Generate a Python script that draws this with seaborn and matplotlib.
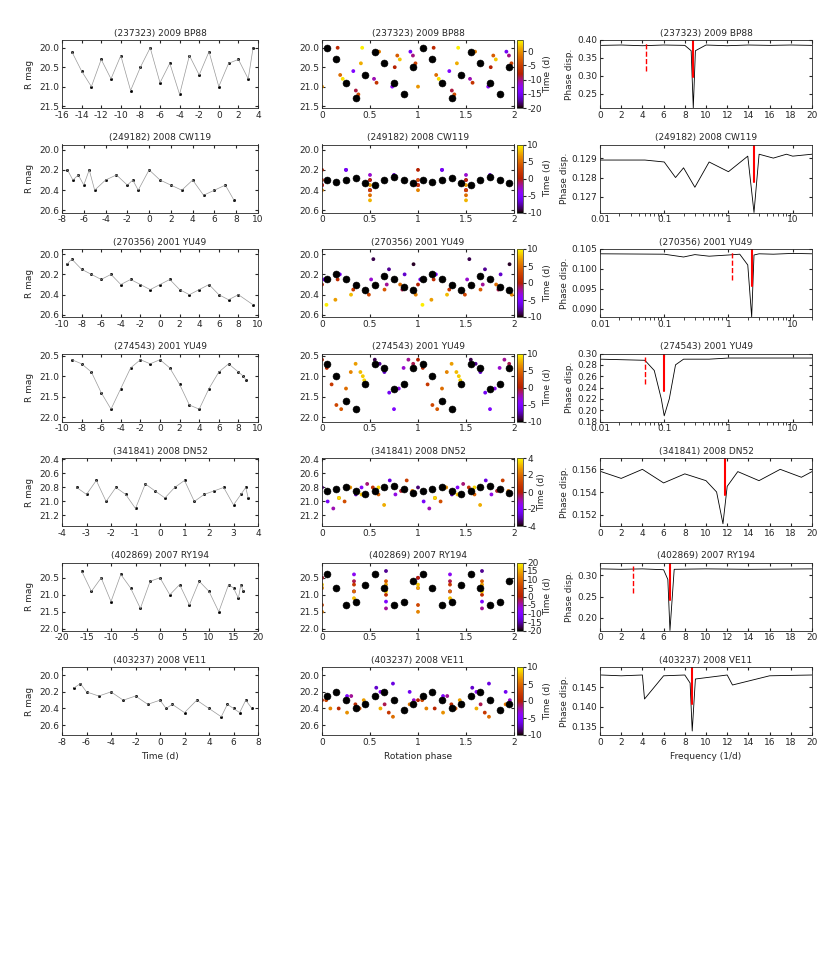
import numpy as np
import matplotlib
matplotlib.use("Agg")
import matplotlib.pyplot as plt
import seaborn as sns

sns.set_style("ticks")
plt.rcParams["font.size"] = 6.5
plt.rcParams["axes.unicode_minus"] = False

# Objects
titles = ["(237323) 2009 BP88", "(249182) 2008 CW119", "(270356) 2001 YU49",
          "(274543) 2001 YU49", "(341841) 2008 DN52", "(402869) 2007 RY194",
          "(403237) 2008 VE11"]

# light-curve samples (time in d, R mag)
times = [
    [-15, -14, -13, -12, -11, -10, -9, -8, -7, -6, -5, -4, -3, -2, -1, 0, 1, 2, 3, 3.5],
    [-7.5, -7, -6.5, -6, -5.5, -5, -4, -3, -2, -1.5, -1, 0, 1, 2, 3, 4, 5, 6, 7, 7.8],
    [-9.5, -9, -8, -7, -6, -5, -4, -3, -2, -1, 0, 1, 2, 3, 4, 5, 6, 7, 8, 9.5],
    [-9, -8, -7, -6, -5, -4, -3, -2, -1, 0, 1, 2, 3, 4, 5, 6, 7, 8, 8.5, 8.8],
    [-3.4, -3, -2.6, -2.2, -1.8, -1.4, -1, -0.6, -0.2, 0.2, 0.6, 1, 1.4, 1.8, 2.2, 2.6, 3, 3.3, 3.5, 3.6],
    [-16, -14, -12, -10, -8, -6, -4, -2, 0, 2, 4, 6, 8, 10, 12, 14, 15, 16, 16.5, 17],
    [-7, -6.5, -6, -5, -4, -3, -2, -1, 0, 0.5, 1, 2, 3, 4, 5, 5.5, 6, 6.5, 7, 7.5],
]
mags = [
    [20.1, 20.6, 21.0, 20.3, 20.8, 20.2, 21.1, 20.5, 20.0, 20.9, 20.4, 21.2, 20.2, 20.7, 20.1, 21.0, 20.4, 20.3, 20.8, 20.0],
    [20.2, 20.3, 20.25, 20.35, 20.2, 20.4, 20.3, 20.25, 20.35, 20.3, 20.4, 20.2, 20.3, 20.35, 20.4, 20.3, 20.45, 20.4, 20.35, 20.5],
    [20.1, 20.05, 20.15, 20.2, 20.25, 20.2, 20.3, 20.25, 20.3, 20.35, 20.3, 20.25, 20.35, 20.4, 20.35, 20.3, 20.4, 20.45, 20.4, 20.5],
    [20.6, 20.7, 20.9, 21.4, 21.8, 21.3, 20.8, 20.6, 20.7, 20.6, 20.8, 21.2, 21.7, 21.8, 21.3, 20.9, 20.7, 20.9, 21.0, 21.1],
    [20.8, 20.9, 20.7, 21.0, 20.8, 20.9, 21.1, 20.75, 20.85, 20.95, 20.8, 20.7, 21.0, 20.9, 20.85, 20.8, 21.05, 20.9, 20.8, 20.95],
    [20.3, 20.9, 20.5, 21.2, 20.4, 20.8, 21.4, 20.6, 20.5, 21.0, 20.7, 21.3, 20.6, 20.9, 21.5, 20.7, 20.8, 21.1, 20.7, 20.9],
    [20.15, 20.1, 20.2, 20.25, 20.2, 20.3, 20.25, 20.35, 20.3, 20.4, 20.35, 20.45, 20.3, 20.4, 20.5, 20.35, 20.4, 20.45, 20.3, 20.4],
]
time_xlim = [(-16, 4), (-8, 10), (-10, 10), (-10, 10), (-4, 4), (-20, 20), (-8, 8)]
time_xstep = [2, 2, 2, 2, 1, 5, 2]
mag_ylim = [(21.55, 19.8), (20.62, 19.95), (20.62, 19.95), (22.1, 20.45), (21.35, 20.38), (22.05, 20.05), (20.72, 19.9)]
mag_yticks = [[20, 20.5, 21, 21.5], [20, 20.2, 20.4, 20.6], [20, 20.2, 20.4, 20.6],
              [20.5, 21, 21.5, 22], [20.4, 20.6, 20.8, 21, 21.2], [20.5, 21, 21.5, 22],
              [20, 20.2, 20.4, 20.6]]
periods = [0.227, 0.4, 0.86, 20.0, 0.17, 0.3, 0.23]

# phase-binned mean curve (phase 0..1)
binned = [
    [20.0, 20.3, 20.9, 21.3, 20.7, 20.1, 20.4, 20.9, 21.2, 20.5],
    [20.3, 20.32, 20.3, 20.28, 20.33, 20.35, 20.3, 20.27, 20.3, 20.33],
    [20.25, 20.2, 20.25, 20.3, 20.35, 20.3, 20.22, 20.25, 20.32, 20.35],
    [20.7, 21.0, 21.6, 21.8, 21.2, 20.7, 20.8, 21.3, 21.2, 20.8],
    [20.85, 20.82, 20.8, 20.85, 20.9, 20.85, 20.8, 20.78, 20.82, 20.88],
    [20.4, 20.8, 21.3, 21.2, 20.7, 20.4, 20.8, 21.3, 21.2, 20.6],
    [20.25, 20.2, 20.3, 20.4, 20.35, 20.25, 20.2, 20.3, 20.42, 20.35],
]
cbar_lim = [(-20, 4), (-10, 10), (-10, 10), (-10, 10), (-4, 4), (-20, 20), (-10, 10)]
cbar_step = [5, 5, 5, 5, 2, 5, 5]

# periodograms
freq_log = [False, True, True, True, False, False, False]
freqs = [
    [0.1, 2, 4, 6, 8, 8.6, 8.8, 9.0, 10, 12, 14, 16, 18, 20],
    [0.01, 0.05, 0.1, 0.15, 0.2, 0.3, 0.5, 1, 2, 2.5, 3, 5, 8, 10, 20],
    [0.01, 0.1, 0.2, 0.3, 0.5, 1, 1.5, 2, 2.3, 2.5, 3, 5, 10, 20],
    [0.01, 0.05, 0.07, 0.09, 0.1, 0.12, 0.15, 0.2, 0.5, 1, 5, 20],
    [0.1, 2, 4, 6, 8, 10, 11, 11.6, 12, 13, 15, 17, 19, 20],
    [0.1, 2, 4, 6, 6.4, 6.6, 7, 10, 14, 20],
    [0.1, 2, 4, 4.2, 6, 8, 8.5, 8.7, 9, 12, 12.5, 16, 20],
]
disps = [
    [0.385, 0.386, 0.384, 0.386, 0.385, 0.37, 0.21, 0.37, 0.386, 0.384, 0.386, 0.385, 0.386, 0.385],
    [0.1289, 0.1289, 0.1288, 0.1280, 0.1285, 0.1275, 0.1288, 0.1283, 0.1291, 0.1262, 0.1292, 0.1290, 0.1292, 0.1291, 0.1292],
    [0.1038, 0.1037, 0.1030, 0.1036, 0.1032, 0.1035, 0.1037, 0.1010, 0.088, 0.1035, 0.1038, 0.1037, 0.1039, 0.1038],
    [0.29, 0.288, 0.27, 0.22, 0.19, 0.22, 0.28, 0.29, 0.29, 0.292, 0.292, 0.292],
    [0.1558, 0.1552, 0.1560, 0.1548, 0.1556, 0.1550, 0.1540, 0.1512, 0.1545, 0.1558, 0.1550, 0.1560, 0.1553, 0.1558],
    [0.315, 0.314, 0.315, 0.313, 0.29, 0.17, 0.314, 0.315, 0.314, 0.315],
    [0.148, 0.1478, 0.148, 0.142, 0.1478, 0.148, 0.146, 0.134, 0.147, 0.148, 0.1455, 0.1478, 0.148],
]
best_freq = [8.8, 2.5, 2.3, 0.1, 11.8, 6.6, 8.7]
half_freq = [4.3, None, 1.15, 0.05, None, 3.1, None]
disp_ylim = [(0.21, 0.4), (0.1262, 0.1297), (0.088, 0.105), (0.18, 0.3), (0.151, 0.157), (0.17, 0.33), (0.133, 0.15)]
disp_yticks = [[0.25, 0.3, 0.35, 0.4], [0.127, 0.128, 0.129], [0.09, 0.095, 0.1, 0.105],
               [0.18, 0.2, 0.22, 0.24, 0.26, 0.28, 0.3], [0.152, 0.154, 0.156],
               [0.2, 0.25, 0.3], [0.135, 0.14, 0.145]]

fig = plt.figure(figsize=(8.3, 9.65), dpi=100)
W, H = 830, 965
cols = [(62, 258), (322, 514), (600, 812)]
cmap = plt.get_cmap("gnuplot")

for i in range(7):
    top = 40 + i * 104.5
    h = 68
    axes = []
    for x0, x1 in cols:
        axes.append(fig.add_axes([x0 / W, 1 - (top + h) / H, (x1 - x0) / W, h / H]))
    a1, a2, a3 = axes
    t = np.array(times[i])
    m = np.array(mags[i])

    # time series
    a1.plot(t, m, color="0.6", lw=0.5)
    sns.scatterplot(x=t, y=m, ax=a1, color="black", s=4, edgecolor=None)
    a1.set_xlim(time_xlim[i])
    a1.set_xticks(np.arange(time_xlim[i][0], time_xlim[i][1] + 0.01, time_xstep[i]))
    a1.set_ylim(mag_ylim[i])
    a1.set_yticks(mag_yticks[i])
    a1.set_ylabel("R mag")

    # phase folded
    ph = (t / periods[i]) % 1
    sc = a2.scatter(np.concatenate([ph, ph + 1]), np.concatenate([m, m]),
                    c=np.concatenate([t, t]), cmap=cmap, s=3,
                    vmin=cbar_lim[i][0], vmax=cbar_lim[i][1])
    bph = (np.arange(len(binned[i])) + 0.5) / len(binned[i])
    sns.scatterplot(x=np.concatenate([bph, bph + 1]), y=binned[i] * 2, ax=a2,
                    color="black", s=25, edgecolor=None)
    a2.set_xlim(0, 2)
    a2.set_xticks([0, 0.5, 1, 1.5, 2])
    a2.set_xticklabels(["0", "0.5", "1", "1.5", "2"])
    a2.set_ylim(mag_ylim[i])
    a2.set_yticks(mag_yticks[i])
    cax = fig.add_axes([517 / W, 1 - (top + h) / H, 6 / W, h / H])
    cb = fig.colorbar(sc, cax=cax)
    cb.set_ticks(np.arange(cbar_lim[i][0], cbar_lim[i][1] + 0.01, cbar_step[i]))
    cb.set_label("Time (d)", labelpad=1)
    cb.ax.tick_params(labelsize=6.5, length=2, pad=1)
    cb.outline.set_linewidth(0.5)

    # periodogram
    a3.plot(freqs[i], disps[i], color="black", lw=0.6)
    a3.axvline(best_freq[i], color="red", lw=1.5, ymin=0.45, ymax=1)
    if half_freq[i] is not None:
        a3.axvline(half_freq[i], color="red", lw=1, ls="--", ymin=0.55, ymax=0.95)
    if freq_log[i]:
        a3.set_xscale("log")
        a3.set_xlim(0.01, 20)
        a3.set_xticks([0.01, 0.1, 1, 10])
        a3.set_xticklabels(["0.01", "0.1", "1", "10"])
    else:
        a3.set_xlim(0, 20)
        a3.set_xticks(range(0, 21, 2))
    a3.set_ylim(disp_ylim[i])
    a3.set_yticks(disp_yticks[i])
    a3.set_ylabel("Phase disp.", labelpad=2)

    for a in axes:
        a.set_title(titles[i], fontsize=6.5, pad=3)
        a.tick_params(labelsize=6.5, length=2, pad=2, direction="in", top=True, right=True)
        for s in a.spines.values():
            s.set_linewidth(0.6)
    if i == 6:
        a1.set_xlabel("Time (d)")
        a2.set_xlabel("Rotation phase")
        a3.set_xlabel("Frequency (1/d)")

plt.savefig("out.png", dpi=100)
